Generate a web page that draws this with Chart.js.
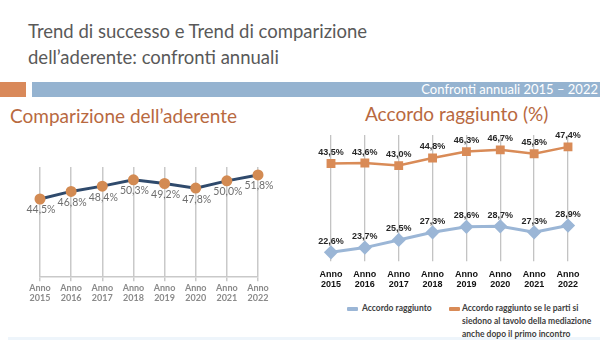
<!DOCTYPE html>
<html>
<head>
<meta charset="utf-8">
<script src="https://cdn.jsdelivr.net/npm/chart.js@4.4.1/dist/chart.umd.min.js"></script>
<style>
  body { margin: 0; width: 600px; height: 340px; background: #fff; position: relative; overflow: hidden; font-family: "Lato", sans-serif; }
  .title { position: absolute; left: 28px; top: 18px; font-size: 18.5px; line-height: 26px; color: #595959; }
  .orange-block { position: absolute; left: 0; top: 82px; width: 26px; height: 15px; background: #d9895a; }
  .banner { position: absolute; left: 32px; top: 82px; width: 568px; height: 15px; background: #95b3d0; color: #fff; font-size: 13px; line-height: 15px; text-align: right; }
  .banner span { padding-right: 2px; }
  .sub { position: absolute; color: #b8693f; font-size: 19px; }
  .strip { position: absolute; left: 8px; top: 337px; width: 592px; height: 3px; background: #eef5fb; }
  .legend { position: absolute; font-size: 8.5px; font-weight: bold; color: #404040; line-height: 13px; }
  .swatch { position: absolute; width: 11px; height: 4px; border-radius: 1px; }
  canvas { position: absolute; }
</style>
</head>
<body>
<div class="title">Trend di successo e Trend di comparizione<br>dell’aderente: confronti annuali</div>
<div class="orange-block"></div>
<div class="banner"><span>Confronti annuali 2015 – 2022</span></div>
<div class="sub" style="left:10px; top:104px;">Comparizione dell’aderente</div>
<div class="sub" style="left:365px; top:102px;">Accordo raggiunto (%)</div>
<div class="strip"></div>
<div style="position:absolute;left:0;top:152px;width:295px;height:153px;"><canvas id="left"></canvas></div>
<div style="position:absolute;left:300px;top:126px;width:300px;height:171px;"><canvas id="right"></canvas></div>
<div id="legend"></div>
<script>
// Categories and values
const years = ["2015", "2016", "2017", "2018", "2019", "2020", "2021", "2022"];
const comparizione = [44.5, 46.8, 48.4, 50.3, 49.2, 47.8, 50.0, 51.8];
const accordo = [22.6, 23.7, 25.5, 27.3, 28.6, 28.7, 27.3, 28.9];
const accordoParti = [43.5, 43.6, 43.0, 44.8, 46.3, 46.7, 45.8, 47.4];
const legendNames = ["Accordo raggiunto", "Accordo raggiunto se le parti si<br>siedono al tavolo della mediazione<br>anche dopo il primo incontro"];

const yearLabels = years.map(y => ["Anno", y]);
const fmt = v => v.toFixed(1).replace(".", ",") + "%";

// draws the value next to every point
const valueLabels = {
  id: "valueLabels",
  afterDatasetsDraw(chart, args, opts) {
    const ctx = chart.ctx;
    ctx.save();
    ctx.font = opts.font;
    ctx.fillStyle = opts.color;
    ctx.textAlign = "center";
    ctx.textBaseline = "middle";
    chart.data.datasets.forEach((ds, i) => {
      chart.getDatasetMeta(i).data.forEach((pt, j) => {
        ctx.fillText(fmt(ds.data[j]), pt.x + (opts.dx || 0), pt.y + opts.dy);
      });
    });
    ctx.restore();
  }
};

// Left chart: Comparizione dell'aderente
new Chart(document.getElementById("left"), {
  type: "line",
  data: {
    labels: yearLabels,
    datasets: [{
      data: comparizione,
      borderColor: "#2f4a6c",
      borderWidth: 3,
      pointBackgroundColor: "#d38b53",
      pointBorderColor: "#d38b53",
      pointRadius: 4,
      clip: false,
      tension: 0
    }]
  },
  options: {
    responsive: true,
    maintainAspectRatio: false,
    animation: false,
    layout: { padding: { left: 40, right: 37, top: 15, bottom: 0 } },
    plugins: {
      legend: { display: false },
      tooltip: { enabled: false },
      valueLabels: { font: "10.5px 'Lato'", color: "#6e6e6e", dy: 11, dx: 1 }
    },
    scales: {
      x: {
        offset: false,
        grid: { color: "#c9c9c9", lineWidth: 1.5, tickLength: 4, drawOnChartArea: true },
        border: { color: "#c9c9c9", width: 1.5 },
        ticks: { color: "#8a8a8a", font: { size: 9, weight: "bold", family: "Lato", lineHeight: 1.1 }, padding: 2, maxRotation: 0 }
      },
      y: { display: false, min: 20.8, max: 54.2 }
    }
  },
  plugins: [valueLabels]
});

// Right chart: Accordo raggiunto (%)
const colors = ["#9bb6d6", "#d98b57"];
new Chart(document.getElementById("right"), {
  type: "line",
  data: {
    labels: yearLabels,
    datasets: [{
      label: "Accordo raggiunto",
      data: accordo,
      borderColor: colors[0],
      backgroundColor: colors[0],
      borderWidth: 3,
      pointStyle: "rectRot",
      pointRadius: 5,
      pointBackgroundColor: colors[0],
      pointBorderColor: colors[0],
      clip: false
    }, {
      label: "Accordo raggiunto se le parti si siedono al tavolo della mediazione anche dopo il primo incontro",
      data: accordoParti,
      borderColor: colors[1],
      backgroundColor: colors[1],
      borderWidth: 2.5,
      pointStyle: "rect",
      pointRadius: 4.5,
      pointBackgroundColor: colors[1],
      pointBorderColor: colors[1],
      clip: false
    }]
  },
  options: {
    responsive: true,
    maintainAspectRatio: false,
    animation: false,
    layout: { padding: { left: 31, right: 32, top: 9, bottom: 0 } },
    plugins: {
      legend: { display: false },
      tooltip: { enabled: false },
      valueLabels: { font: "bold 9px 'Liberation Sans'", color: "#262626", dy: -11 }
    },
    scales: {
      x: {
        offset: false,
        grid: { color: "#c3c3c3", lineWidth: 1.3, tickLength: 0 },
        border: { display: false },
        ticks: { color: "#111", font: { size: 9, weight: "bold", family: "Liberation Sans", lineHeight: 1.1 }, padding: 8, maxRotation: 0 }
      },
      y: { display: false, min: 20.5, max: 50.2 }
    }
  },
  plugins: [valueLabels]
});

// legend below the right chart
const legendPos = [[347, 362], [449, 462]];
document.getElementById("legend").innerHTML = legendNames.map((name, i) =>
  `<div class="swatch" style="left:${legendPos[i][0]}px;top:307px;background:${colors[i]}"></div>` +
  `<div class="legend" style="left:${legendPos[i][1]}px;top:302px">${name}</div>`
).join("");
</script>
</body>
</html>
